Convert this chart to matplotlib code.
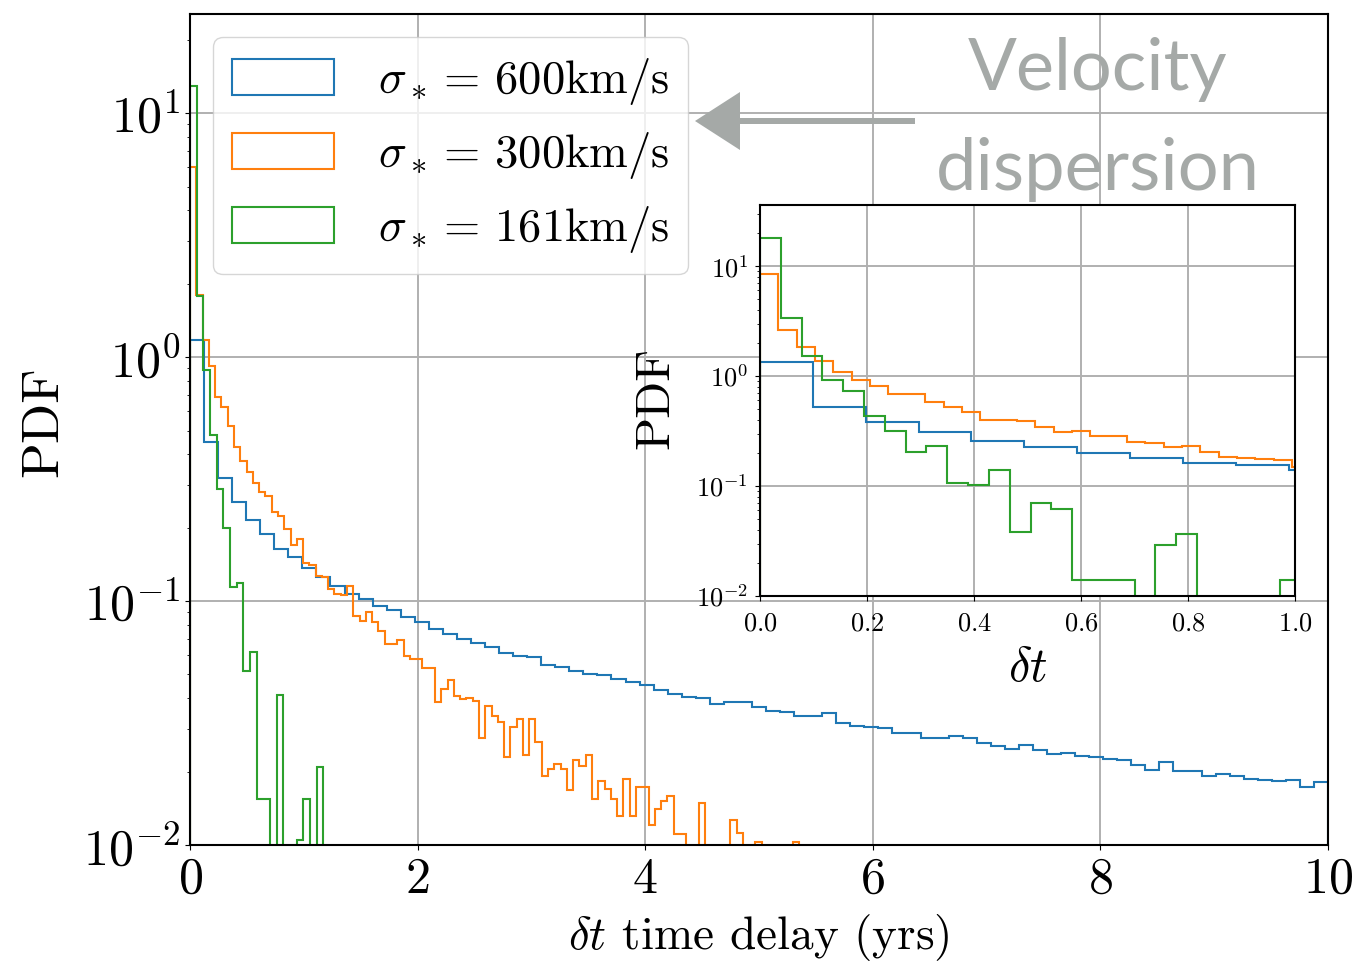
import matplotlib.pyplot as plt
import numpy as np
from matplotlib.patches import FancyArrow

plt.rcParams['font.family'] = 'serif'
plt.rcParams['font.serif'] = ['cmr10']
plt.rcParams['mathtext.fontset'] = 'cm'
plt.rcParams['axes.formatter.use_mathtext'] = True
plt.rcParams['axes.linewidth'] = 1.5

labels = [r'$\sigma_* = \,600$km/s', r'$\sigma_* = \,300$km/s', r'$\sigma_* = \,161$km/s']
colors = ['tab:blue', 'tab:orange', 'tab:green']

# main panel: PDF per bin, bins start at 0
blue_width = 10 / 81
blue_pdf = [1.17, 0.45, 0.32, 0.255, 0.215, 0.188, 0.164, 0.152, 0.136, 0.126,
            0.115, 0.107, 0.102, 0.095, 0.092, 0.086, 0.082, 0.077, 0.073, 0.070,
            0.067, 0.065, 0.061, 0.0594, 0.0587, 0.0547, 0.0537, 0.0516, 0.0502, 0.0497,
            0.0478, 0.0467, 0.0453, 0.0432, 0.0415, 0.0403, 0.0399, 0.0378, 0.0387, 0.0384,
            0.0369, 0.0355, 0.0352, 0.0338, 0.0338, 0.0347, 0.0317, 0.0307, 0.0306, 0.0303,
            0.0288, 0.0288, 0.0275, 0.0275, 0.028, 0.0274, 0.0261, 0.0255, 0.0247, 0.0257,
            0.0245, 0.0235, 0.0239, 0.0232, 0.023, 0.0226, 0.0223, 0.0213, 0.0203, 0.0219,
            0.0202, 0.0202, 0.0192, 0.0195, 0.0192, 0.0186, 0.0184, 0.0183, 0.0184, 0.0173,
            0.0181]
orange_width = 0.0552
orange_pdf = [6.0, 1.8, 1.17, 0.918, 0.684, 0.625, 0.521, 0.429, 0.376, 0.339,
              0.305, 0.281, 0.269, 0.232, 0.223, 0.197, 0.170, 0.179, 0.143, 0.141,
              0.127, 0.126, 0.112, 0.107, 0.106, 0.115, 0.0865, 0.0827, 0.0906, 0.0822,
              0.0754, 0.0669, 0.0669, 0.0692, 0.0598, 0.0577, 0.0577, 0.0533, 0.0533, 0.0387,
              0.0435, 0.0475, 0.0408, 0.0398, 0.0402, 0.039, 0.0274, 0.037, 0.0338, 0.032,
              0.0229, 0.0305, 0.0327, 0.0234, 0.033, 0.0265, 0.0191, 0.0205, 0.0215, 0.0205,
              0.0168, 0.0224, 0.021, 0.0234, 0.0154, 0.0183, 0.0169, 0.0154, 0.0131, 0.0186,
              0.0131, 0.0173, 0.0173, 0.0121, 0.0141, 0.0152, 0.0159, 0.0111, 0.0111, 0,
              0, 0.0149, 0, 0, 0, 0, 0.0127, 0.0112, 0, 0,
              0.0103, 0, 0, 0, 0, 0, 0.0103]
green_width = 0.0586
green_pdf = [12.9, 1.78, 0.885, 0.478, 0.287, 0.2, 0.1137, 0.119, 0.0518, 0.062,
             0.0155, 0.0155, 0, 0.0412, 0, 0, 0.0105, 0.0155, 0, 0.0208]

# inset: zoom on the first year
inset_blue_width = 0.0988
inset_blue_pdf = [1.35, 0.526, 0.384, 0.307, 0.258, 0.225, 0.201, 0.179, 0.161, 0.154, 0.140]
inset_orange_width = 0.0343
inset_orange_pdf = [8.45, 2.62, 1.82, 1.37, 1.09, 0.92, 0.81, 0.686, 0.686, 0.577,
                    0.526, 0.468, 0.398, 0.396, 0.393, 0.342, 0.308, 0.319, 0.285, 0.285,
                    0.253, 0.248, 0.225, 0.232, 0.205, 0.185, 0.181, 0.177, 0.172, 0.150]
inset_green_width = 0.0389
inset_green_pdf = [18.1, 3.35, 1.53, 0.92, 0.735, 0.433, 0.318, 0.204, 0.23, 0.107,
                   0.102, 0.141, 0.038, 0.07, 0.062, 0.0139, 0.0139, 0.0139, 0, 0.029,
                   0.0366, 0, 0, 0, 0, 0.0139]


def step_hist(ax, width, pdf, color, label=None):
    pdf = np.array(pdf, dtype=float)
    edges = np.arange(len(pdf) + 1) * width
    centers = 0.5 * (edges[:-1] + edges[1:])
    ax.hist(centers, bins=edges, weights=pdf, histtype='step', color=color,
            linewidth=1.5, log=True, label=label)


fig = plt.figure(figsize=(13.7, 9.66), dpi=100)
ax = fig.add_axes([190 / 1370, 1 - 845 / 966, 1138 / 1370, 831 / 966])

step_hist(ax, blue_width, blue_pdf, colors[0], labels[0])
step_hist(ax, orange_width, orange_pdf, colors[1], labels[1])
step_hist(ax, green_width, green_pdf, colors[2], labels[2])

ax.set_xlim(0, 10)
ax.set_ylim(0.01, 25.5)
ax.grid(True, color='#b0b0b0', linewidth=1.4)
ax.tick_params(labelsize=36)
ax.tick_params(axis='x', pad=5)
ax.set_xlabel(r'$\delta t$ time delay (yrs)', fontsize=34, labelpad=7)
ax.set_ylabel('PDF', fontsize=38)
ax.yaxis.set_label_coords(-0.108, 0.51)
ax.legend(loc='upper left', fontsize=33.5, handlelength=2.2, handleheight=0.8,
          handletextpad=0.93)

# inset
axin = fig.add_axes([760 / 1370, 1 - 596 / 966, 535 / 1370, 391 / 966])
step_hist(axin, inset_blue_width, inset_blue_pdf, colors[0])
step_hist(axin, inset_orange_width, inset_orange_pdf, colors[1])
step_hist(axin, inset_green_width, inset_green_pdf, colors[2])
axin.set_xlim(0, 1)
axin.set_ylim(0.01, 35.9)
axin.grid(True, color='#b0b0b0', linewidth=1.4)
axin.tick_params(labelsize=19, pad=5)
axin.tick_params(axis='x', pad=8)
axin.set_xlabel(r'$\delta t$', fontsize=35, labelpad=8)
axin.set_ylabel('PDF', fontsize=35)
axin.yaxis.set_label_coords(-0.153, 0.506)

# annotation
grey = '#a5a9a7'
fig.text(1098 / 1370, 1 - 90 / 966, 'Velocity', ha='center', va='baseline',
         fontsize=52, family='Lato', color=grey)
fig.text(1098 / 1370, 1 - 190 / 966, 'dispersion', ha='center', va='baseline',
         fontsize=52, family='Lato', color=grey)
arrow = FancyArrow(915 / 1370, 1 - 121 / 966, -220 / 1370, 0, width=6 / 966,
                   head_width=58 / 966, head_length=45 / 1370,
                   length_includes_head=True, transform=fig.transFigure,
                   color=grey, linewidth=0)
fig.patches.append(arrow)

fig.savefig('out.png', dpi=100)
